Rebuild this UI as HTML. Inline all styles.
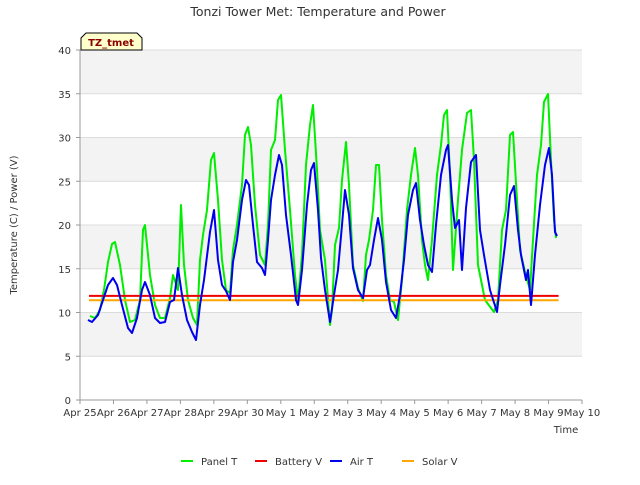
<!DOCTYPE html>
<html><head><meta charset="utf-8"><style>
body{margin:0;background:#fff;font-family:"Liberation Sans","DejaVu Sans",sans-serif}
svg text{font-family:"DejaVu Sans","Liberation Sans",sans-serif}
</style></head><body>
<svg id="chart" width="640" height="480" xmlns="http://www.w3.org/2000/svg">
<text x="318" y="16" text-anchor="middle" font-size="12.5" fill="#333">Tonzi Tower Met: Temperature and Power</text>
<rect x="80" y="50" width="502" height="350" fill="#fff"/>
<g id="bands"></g><g id="grid"></g><g id="series"></g><g id="axes"></g>
<text transform="translate(17,225) rotate(-90)" text-anchor="middle" font-size="10" fill="#333">Temperature (C) / Power (V)</text>
<text x="566" y="433" text-anchor="middle" font-size="10" fill="#333">Time</text>
<g><path d="M81,50 L81,38 L86,33 L137,33 L142,38 L142,50 Z" fill="#ffffcc" stroke="#000"/><text x="111" y="46" text-anchor="middle" font-size="10" font-weight="bold" fill="#8b0000">TZ_tmet</text></g>
<g id="legend"></g>
</svg>
<script>
const xTicks=["Apr 25","Apr 26","Apr 27","Apr 28","Apr 29","Apr 30","May 1","May 2","May 3","May 4","May 5","May 6","May 7","May 8","May 9","May 10"];
const yTicks=[0,5,10,15,20,25,30,35,40];
const panelPx=[[90,316],[95,318],[100,310],[104,290],[108,262],[112,244],[115,242],[120,265],[125,300],[130,322],[135,320],[140,300],[143,230],[145,225],[150,275],[155,305],[160,318],[165,318],[170,298],[173,275],[178,290],[181,205],[184,265],[188,300],[193,318],[197,325],[200,260],[203,235],[207,210],[211,160],[214,153],[218,200],[222,260],[226,290],[230,293],[233,250],[237,225],[242,185],[245,135],[248,127],[251,145],[255,205],[260,255],[265,265],[268,225],[271,150],[275,140],[278,100],[281,95],[285,150],[290,210],[295,275],[298,300],[302,255],[306,165],[310,125],[313,105],[317,170],[320,230],[325,260],[330,325],[332,310],[335,245],[339,228],[342,180],[346,142],[349,185],[353,265],[358,288],[363,301],[366,255],[369,240],[373,210],[376,165],[379,165],[382,220],[386,275],[390,300],[394,302],[398,320],[402,280],[407,210],[411,175],[415,148],[418,175],[422,240],[425,265],[428,280],[432,240],[437,175],[441,145],[444,115],[447,110],[450,175],[453,270],[458,200],[462,150],[467,113],[471,110],[474,160],[478,265],[481,280],[485,300],[494,312],[498,300],[502,230],[506,210],[510,135],[513,132],[517,200],[520,250],[525,272],[530,290],[533,240],[537,175],[541,145],[544,102],[548,94],[551,160],[554,220],[556,238]];
const airPx=[[88,320],[92,322],[98,315],[103,300],[108,285],[113,278],[117,285],[122,305],[128,328],[132,333],[137,318],[142,290],[145,282],[150,295],[155,318],[160,323],[165,322],[170,302],[174,300],[178,268],[182,295],[187,320],[192,332],[196,340],[200,305],[204,280],[210,232],[214,210],[218,260],[222,285],[226,291],[230,300],[233,262],[237,240],[242,200],[246,180],[249,185],[253,225],[257,262],[262,268],[265,275],[268,240],[271,200],[275,175],[279,155],[282,165],[286,215],[291,255],[296,300],[298,305],[302,270],[307,205],[311,170],[314,163],[318,210],[321,258],[325,290],[330,322],[334,295],[338,270],[342,225],[345,190],[349,215],[353,268],[358,290],[363,298],[367,270],[370,265],[374,240],[378,218],[382,240],[386,282],[391,310],[396,318],[400,295],[404,260],[408,215],[413,190],[416,183],[420,220],[424,245],[428,265],[432,272],[436,225],[441,175],[446,150],[448,145],[452,200],[455,228],[459,220],[462,270],[466,208],[471,162],[476,155],[480,230],[484,255],[490,290],[497,312],[500,285],[505,245],[510,195],[514,186],[518,230],[521,255],[526,280],[528,270],[531,305],[535,255],[540,205],[545,165],[549,148],[552,175],[555,232],[557,236]];
const panelDays=panelPx.map(p=>+((p[0]-80)/33.467).toFixed(3));
const panelT=panelPx.map(p=>+((400-p[1])/8.75).toFixed(2));
const airDays=airPx.map(p=>+((p[0]-80)/33.467).toFixed(3));
const airT=airPx.map(p=>+((400-p[1])/8.75).toFixed(2));
const battDays=[0.27,14.3];
const batteryV=[11.9,11.9];
const solarDays=[0.27,14.3];
const solarV=[11.4,11.4];
const X0=80,X1=582,Y0=400,Y1=50;
const xs=d=>X0+d*(X1-X0)/15;
const ys=v=>Y0-v*(Y0-Y1)/40;
const NS="http://www.w3.org/2000/svg";
function mk(tag,attrs,parent){const e=document.createElementNS(NS,tag);for(const k in attrs)e.setAttribute(k,attrs[k]);parent.appendChild(e);return e;}
const bands=document.getElementById('bands'),grid=document.getElementById('grid'),axes=document.getElementById('axes'),series=document.getElementById('series'),legend=document.getElementById('legend');
for(let i=0;i<yTicks.length-1;i++){if(i%2===1){const r=mk('rect',{x:X0,y:ys(yTicks[i+1]),width:X1-X0,height:ys(yTicks[i])-ys(yTicks[i+1]),fill:'#f3f3f3'},bands);

}}
yTicks.forEach(v=>{const l=mk('line',{x1:X0,x2:X1,y1:ys(v),y2:ys(v),stroke:'#dcdcdc'},grid);


mk('line',{x1:X0-4,x2:X0,y1:ys(v),y2:ys(v),stroke:'#999'},axes);
const t=mk('text',{x:X0-9,y:ys(v)+4,'text-anchor':'end','font-size':10,fill:'#333'},axes);t.textContent=v;

});
xTicks.forEach((s,i)=>{mk('line',{x1:xs(i),x2:xs(i),y1:Y0,y2:Y0+4,stroke:'#999'},axes);
const t=mk('text',{x:xs(i),y:Y0+16,'text-anchor':'middle','font-size':10,fill:'#333'},axes);t.textContent=s;

});
mk('line',{x1:X0,x2:X0,y1:Y1,y2:Y0,stroke:'#999'},axes);
mk('line',{x1:X0,x2:X1,y1:Y0,y2:Y0,stroke:'#999'},axes);
function line(days,vals,color,name){const d=days.map((t,i)=>(i?'L':'M')+xs(t).toFixed(1)+','+ys(vals[i]).toFixed(1)).join('');
const p=mk('path',{d:d,fill:'none',stroke:color,'stroke-width':2,'stroke-linejoin':'round'},series);

}
line(panelDays,panelT,'#00ee00','panel-t-line');
line(solarDays,solarV,'#ffa500','solar-v-line');
line(battDays,batteryV,'#ee0000','battery-v-line');
line(airDays,airT,'#0000ee','air-t-line');
const leg=[['Panel T','#00ee00',181],['Battery V','#ee0000',255],['Air T','#0000ee',330],['Solar V','#ffa500',402]];
leg.forEach(([n,c,x])=>{const g=mk('g',{},legend);


mk('line',{x1:x,x2:x+12,y1:461,y2:461,stroke:c,'stroke-width':2},g);
const t=mk('text',{x:x+20,y:465,'font-size':10,fill:'#333'},g);t.textContent=n;});
</script>
</body></html>
